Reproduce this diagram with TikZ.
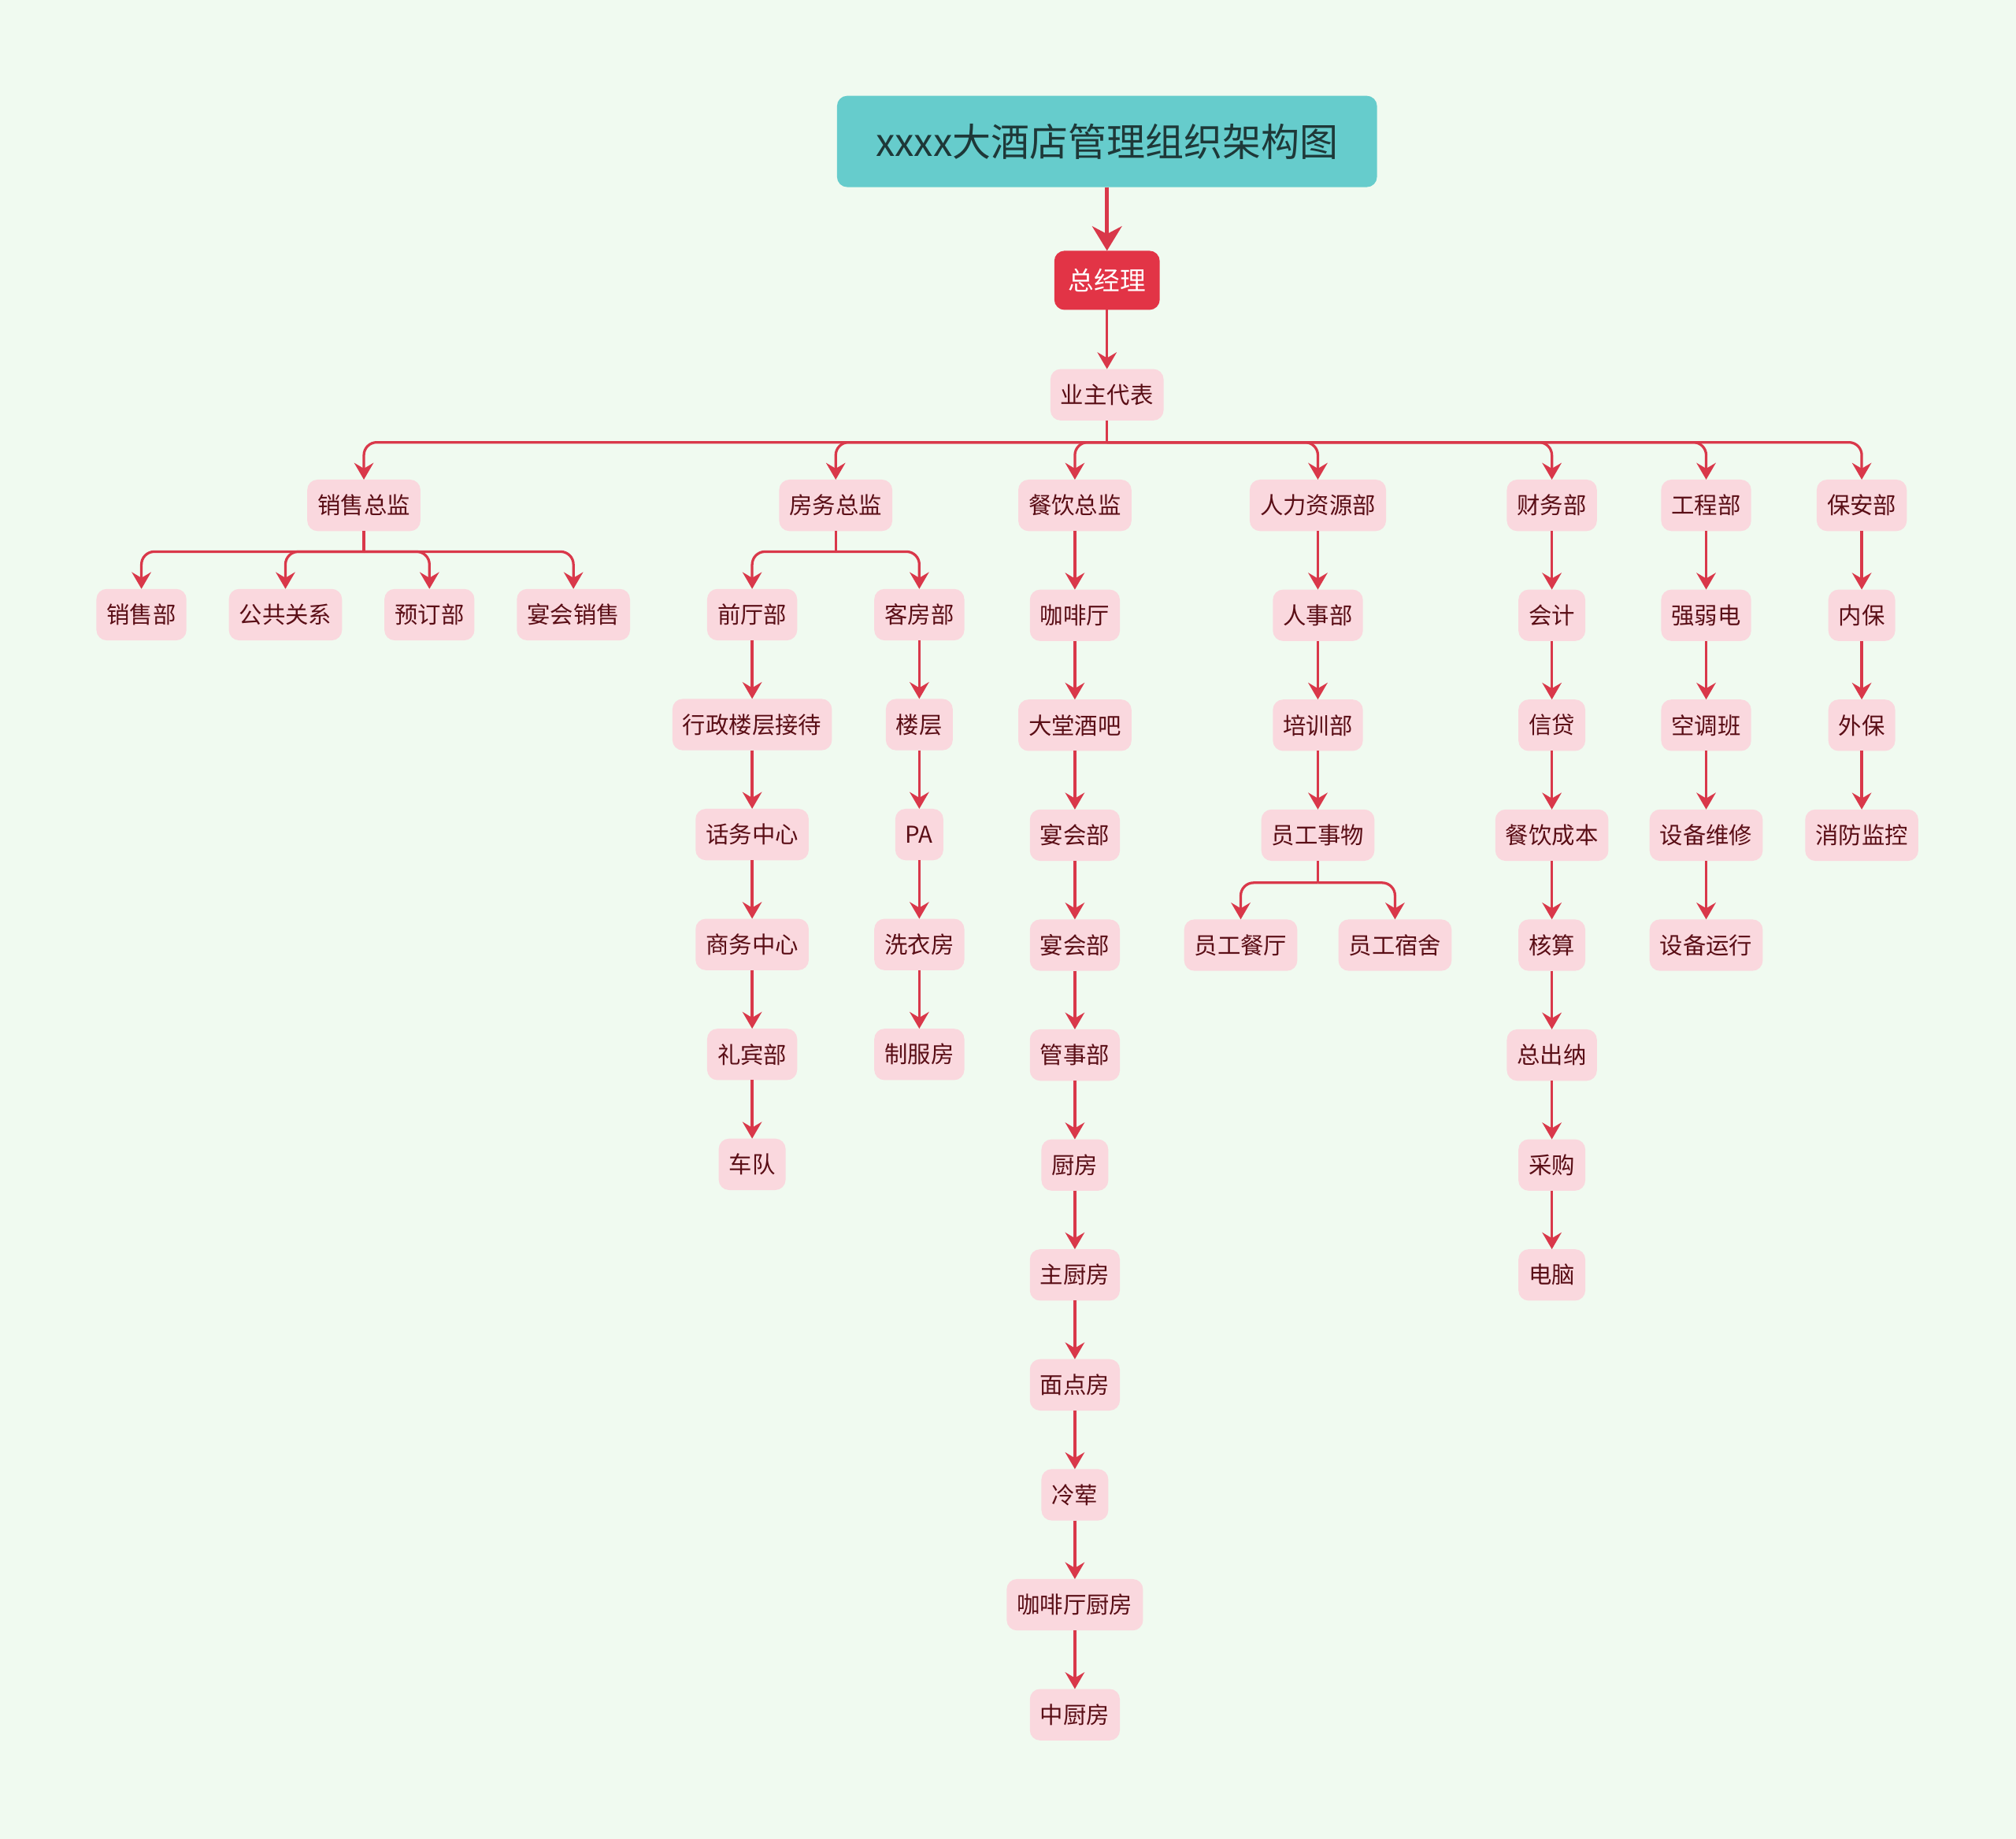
\documentclass[tikz,border=0pt]{standalone}
\usepackage{fontspec}
\newfontfamily\cjk{Noto Sans CJK SC}
\usetikzlibrary{arrows.meta,positioning}

\definecolor{mintbg}{RGB}{240,250,240}
\definecolor{titleteal}{RGB}{102,204,204}
\definecolor{titletext}{RGB}{30,56,56}
\definecolor{bossred}{RGB}{226,52,70}
\definecolor{unitpink}{RGB}{250,216,222}
\definecolor{unittext}{RGB}{90,14,22}
\definecolor{linered}{RGB}{217,56,74}

\begin{document}
\begin{tikzpicture}[
  x=0.5pt,y=0.5pt,
  font=\cjk\fontsize{9}{11}\selectfont,
  node distance=22.75pt,
  titlebox/.style={fill=titleteal,text=titletext,rounded corners=4pt,outer sep=0pt,
    minimum width=210pt,minimum height=35.5pt,font=\cjk\fontsize{15}{18}\selectfont},
  bossbox/.style={fill=bossred,text=white,rounded corners=4pt,outer sep=0pt,
    minimum width=41pt,minimum height=23pt,font=\cjk\fontsize{10}{12}\selectfont},
  unit/.style={fill=unitpink,text=unittext,rounded corners=4pt,outer sep=0pt,
    minimum height=20pt,inner xsep=4pt,inner ysep=2pt},
  flow/.style={draw=linered,line width=1pt,-{Stealth[length=6.5pt,width=7.5pt,inset=2.2pt]}},
  wire/.style={draw=linered,line width=1pt},
  elbow/.style={flow,rounded corners=5pt},
  bigflow/.style={draw=linered,line width=1.5pt,-{Stealth[length=9.5pt,width=11.5pt,inset=3pt]}}
]
  \useasboundingbox (0,0) rectangle (1568,-1430);
  \fill[mintbg] (0,0) rectangle (1568,-1430);

  \node[titlebox] (title) at (861,-110) {xxxx大酒店管理组织架构图};
  \node[bossbox] (gm) at (861,-218) {总经理};
  \node[unit] (owner) at (861,-307) {业主代表};

  \node[unit] (salesdir) at (283,-393) {销售总监};
  \node[unit] (roomsdir) at (650,-393) {房务总监};
  \node[unit] (fnbdir) at (836,-393) {餐饮总监};
  \node[unit] (hr) at (1025,-393) {人力资源部};
  \node[unit] (finance) at (1207,-393) {财务部};
  \node[unit] (engineering) at (1327,-393) {工程部};
  \node[unit] (security) at (1448,-393) {保安部};

  \node[unit] (sales) at (110,-478) {销售部};
  \node[unit] (pr) at (222,-478) {公共关系};
  \node[unit] (booking) at (334,-478) {预订部};
  \node[unit] (banquetsales) at (446,-478) {宴会销售};

  \node[unit] (frontoffice) at (585,-478) {前厅部};
  \node[unit,below=of frontoffice] (executive) {行政楼层接待};
  \node[unit,below=of executive] (operator) {话务中心};
  \node[unit,below=of operator] (business) {商务中心};
  \node[unit,below=of business] (concierge) {礼宾部};
  \node[unit,below=of concierge] (fleet) {车队};

  \node[unit] (housekeeping) at (715,-478) {客房部};
  \node[unit,below=of housekeeping] (floors) {楼层};
  \node[unit,below=of floors] (pa) {PA};
  \node[unit,below=of pa] (laundry) {洗衣房};
  \node[unit,below=of laundry] (uniform) {制服房};

  \node[unit,below=of fnbdir] (cafe) {咖啡厅};
  \node[unit,below=of cafe] (lobbybar) {大堂酒吧};
  \node[unit,below=of lobbybar] (banquet) {宴会部};
  \node[unit,below=of banquet] (banquettwo) {宴会部};
  \node[unit,below=of banquettwo] (stewarding) {管事部};
  \node[unit,below=of stewarding] (kitchen) {厨房};
  \node[unit,below=of kitchen] (mainkitchen) {主厨房};
  \node[unit,below=of mainkitchen] (pastry) {面点房};
  \node[unit,below=of pastry] (coldkitchen) {冷荤};
  \node[unit,below=of coldkitchen] (cafekitchen) {咖啡厅厨房};
  \node[unit,below=of cafekitchen] (chinesekitchen) {中厨房};

  \node[unit,below=of hr] (personnel) {人事部};
  \node[unit,below=of personnel] (training) {培训部};
  \node[unit,below=of training] (staffaffairs) {员工事物};
  \node[unit] (canteen) at (965,-735) {员工餐厅};
  \node[unit] (dorm) at (1085,-735) {员工宿舍};

  \node[unit,below=of finance] (accounting) {会计};
  \node[unit,below=of accounting] (credit) {信贷};
  \node[unit,below=of credit] (costing) {餐饮成本};
  \node[unit,below=of costing] (audit) {核算};
  \node[unit,below=of audit] (cashier) {总出纳};
  \node[unit,below=of cashier] (purchasing) {采购};
  \node[unit,below=of purchasing] (computer) {电脑};

  \node[unit,below=of engineering] (lowcurrent) {强弱电};
  \node[unit,below=of lowcurrent] (aircon) {空调班};
  \node[unit,below=of aircon] (repair) {设备维修};
  \node[unit,below=of repair] (operation) {设备运行};

  \node[unit,below=of security] (innersec) {内保};
  \node[unit,below=of innersec] (outersec) {外保};
  \node[unit,below=of outersec] (fire) {消防监控};

  \draw[bigflow] (title) -- (gm);
  \draw[flow] (gm) -- (owner);

  \draw[wire] (owner.south) -- ++(0,-17) coordinate (ownerbus);
  \draw[elbow] (ownerbus) -| (salesdir.north);
  \draw[elbow] (ownerbus) -| (roomsdir.north);
  \draw[elbow] (ownerbus) -| (fnbdir.north);
  \draw[elbow] (ownerbus) -| (hr.north);
  \draw[elbow] (ownerbus) -| (finance.north);
  \draw[elbow] (ownerbus) -| (engineering.north);
  \draw[elbow] (ownerbus) -| (security.north);

  \draw[wire] (salesdir.south) -- ++(0,-16) coordinate (salesbus);
  \draw[elbow] (salesbus) -| (sales.north);
  \draw[elbow] (salesbus) -| (pr.north);
  \draw[elbow] (salesbus) -| (booking.north);
  \draw[elbow] (salesbus) -| (banquetsales.north);

  \draw[wire] (roomsdir.south) -- ++(0,-16) coordinate (roomsbus);
  \draw[elbow] (roomsbus) -| (frontoffice.north);
  \draw[elbow] (roomsbus) -| (housekeeping.north);

  \draw[flow] (frontoffice) -- (executive);
  \draw[flow] (executive) -- (operator);
  \draw[flow] (operator) -- (business);
  \draw[flow] (business) -- (concierge);
  \draw[flow] (concierge) -- (fleet);

  \draw[flow] (housekeeping) -- (floors);
  \draw[flow] (floors) -- (pa);
  \draw[flow] (pa) -- (laundry);
  \draw[flow] (laundry) -- (uniform);

  \draw[flow] (fnbdir) -- (cafe);
  \draw[flow] (cafe) -- (lobbybar);
  \draw[flow] (lobbybar) -- (banquet);
  \draw[flow] (banquet) -- (banquettwo);
  \draw[flow] (banquettwo) -- (stewarding);
  \draw[flow] (stewarding) -- (kitchen);
  \draw[flow] (kitchen) -- (mainkitchen);
  \draw[flow] (mainkitchen) -- (pastry);
  \draw[flow] (pastry) -- (coldkitchen);
  \draw[flow] (coldkitchen) -- (cafekitchen);
  \draw[flow] (cafekitchen) -- (chinesekitchen);

  \draw[flow] (hr) -- (personnel);
  \draw[flow] (personnel) -- (training);
  \draw[flow] (training) -- (staffaffairs);
  \draw[wire] (staffaffairs.south) -- ++(0,-17) coordinate (staffbus);
  \draw[elbow] (staffbus) -| (canteen.north);
  \draw[elbow] (staffbus) -| (dorm.north);

  \draw[flow] (finance) -- (accounting);
  \draw[flow] (accounting) -- (credit);
  \draw[flow] (credit) -- (costing);
  \draw[flow] (costing) -- (audit);
  \draw[flow] (audit) -- (cashier);
  \draw[flow] (cashier) -- (purchasing);
  \draw[flow] (purchasing) -- (computer);

  \draw[flow] (engineering) -- (lowcurrent);
  \draw[flow] (lowcurrent) -- (aircon);
  \draw[flow] (aircon) -- (repair);
  \draw[flow] (repair) -- (operation);

  \draw[flow] (security) -- (innersec);
  \draw[flow] (innersec) -- (outersec);
  \draw[flow] (outersec) -- (fire);
\end{tikzpicture}
\end{document}
